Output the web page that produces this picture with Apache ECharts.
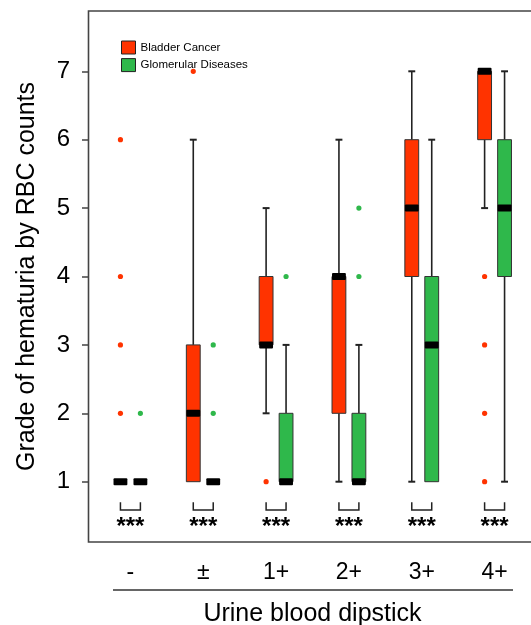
<!DOCTYPE html>
<html><head><meta charset="utf-8">
<script src="https://cdn.jsdelivr.net/npm/echarts@6/dist/echarts.min.js"></script>
<style>html,body{margin:0;padding:0;background:#fff}#c{width:531px;height:625px}</style>
</head><body><div id="c"></div>
<script>
const categories = ['-', '\u00B1', '1+', '2+', '3+', '4+'];
const seriesNames = ['Bladder Cancer', 'Glomerular Diseases'];
// Bladder cancer box stats: lower whisker, Q1, median, Q3, upper whisker
const bladderLow  = [1, 1, 2, 1, 1, 5];
const bladderQ1   = [1, 1, 3, 2, 4, 6];
const bladderMed  = [1, 2, 3, 4, 5, 7];
const bladderQ3   = [1, 3, 4, 4, 6, 7];
const bladderHigh = [1, 6, 5, 6, 7, 7];
// Glomerular diseases box stats
const glomLow  = [1, 1, 1, 1, 1, 1];
const glomQ1   = [1, 1, 1, 1, 1, 4];
const glomMed  = [1, 1, 1, 1, 3, 5];
const glomQ3   = [1, 1, 2, 2, 4, 6];
const glomHigh = [1, 1, 3, 3, 6, 7];
// Outliers: [category index, grade]
const bladderOutliers = [[0, 2], [0, 3], [0, 4], [0, 6], [1, 7], [2, 1], [5, 1], [5, 2], [5, 3], [5, 4]];
const glomOutliers = [[0, 2], [1, 2], [1, 3], [2, 4], [3, 4], [3, 5]];
const sigLabels = ['***', '***', '***', '***', '***', '***'];
const yTickValues = [1, 2, 3, 4, 5, 6, 7];

const RED = '#FF3300', GREEN = '#2FB84B';
const FONT = '"Liberation Sans", Arial, sans-serif';
const OFF = 0.137, BOXW = 0.19;

function boxData(lo, q1, md, q3, hi) {
  return categories.map((c, i) => [i, lo[i], q1[i], md[i], q3[i], hi[i]]);
}
function boxRender(color, side) {
  return function (params, api) {
    const cat = api.value(0);
    const lo = api.value(1), q1 = api.value(2), md = api.value(3), q3 = api.value(4), hi = api.value(5);
    const band = api.size([1, 0])[0];
    const c = api.coord([cat, md]);
    const x = c[0] + side * band * OFF;
    const bw = band * BOXW;
    const Y = v => api.coord([cat, v])[1];
    const ch = [];
    const wl = { stroke: '#222', lineWidth: 1.6 };
    if (hi > q3) {
      ch.push({ type: 'line', shape: { x1: x, y1: Y(q3), x2: x, y2: Y(hi) }, style: wl });
      ch.push({ type: 'line', shape: { x1: x - bw / 4, y1: Y(hi), x2: x + bw / 4, y2: Y(hi) }, style: { stroke: '#222', lineWidth: 2 } });
    }
    if (lo < q1) {
      ch.push({ type: 'line', shape: { x1: x, y1: Y(q1), x2: x, y2: Y(lo) }, style: wl });
      ch.push({ type: 'line', shape: { x1: x - bw / 4, y1: Y(lo), x2: x + bw / 4, y2: Y(lo) }, style: { stroke: '#222', lineWidth: 2 } });
    }
    if (q3 > q1) {
      ch.push({ type: 'rect', shape: { x: x - bw / 2, y: Y(q3), width: bw, height: Y(q1) - Y(q3) }, style: { fill: color, stroke: '#333', lineWidth: 1 } });
    }
    ch.push({ type: 'rect', shape: { x: x - bw / 2, y: Y(md) - 3.5, width: bw, height: 7, r: 1 }, style: { fill: '#000' } });
    return { type: 'group', children: ch };
  };
}
function outlierRender(color, side) {
  return function (params, api) {
    const band = api.size([1, 0])[0];
    const p = api.coord([api.value(0), api.value(1)]);
    return { type: 'circle', shape: { cx: p[0] + side * band * OFF, cy: p[1], r: 2.6 }, style: { fill: color } };
  };
}
function sigRender(params, api) {
  const i = api.value(0);
  const band = api.size([1, 0])[0];
  const cx = api.coord([i, 1])[0];
  const x0 = cx - band * OFF, x1 = cx + band * OFF;
  const yT = api.coord([i, 0.70])[1], yB = api.coord([i, 0.585])[1];
  const yS = api.coord([i, 0.33])[1];
  return { type: 'group', children: [
    { type: 'polyline', shape: { points: [[x0, yT], [x0, yB], [x1, yB], [x1, yT]] }, style: { stroke: '#222', lineWidth: 1.5, fill: null } },
    { type: 'text', x: cx, y: yS, style: { text: sigLabels[i], font: 'bold 24px ' + FONT, fill: '#000', align: 'center', verticalAlign: 'middle' } }
  ] };
}

const chart = echarts.init(document.getElementById('c'), null, { renderer: 'canvas' });
chart.setOption({
  animation: false,
  backgroundColor: '#fff',
  grid: { left: 94, right: 0, top: 71.3, bottom: 143.3, containLabel: false, outerBoundsMode: 'none' },
  legend: {
    orient: 'vertical', left: 116, top: 35.5, itemWidth: 14, itemHeight: 13, itemGap: 3.6,
    textStyle: { fontFamily: FONT, fontSize: 11.5, color: '#000' },
    data: [
      { name: seriesNames[0], icon: 'rect', itemStyle: { color: RED, borderColor: '#222', borderWidth: 1 } },
      { name: seriesNames[1], icon: 'rect', itemStyle: { color: GREEN, borderColor: '#222', borderWidth: 1 } }
    ]
  },
  xAxis: {
    type: 'category', data: categories,
    axisLine: { show: false }, axisTick: { show: false },
    axisLabel: { margin: 79, fontFamily: FONT, fontSize: 23, color: '#000' },
    name: 'Urine blood dipstick', nameLocation: 'middle', nameGap: 120,
    nameTextStyle: { fontFamily: FONT, fontSize: 25, color: '#000' }
  },
  yAxis: {
    type: 'value', min: 1, max: 7, interval: 1, offset: 6,
    splitLine: { show: false },
    axisLine: { show: false },
    axisTick: { show: true, length: 6, lineStyle: { color: '#444', width: 1.5 } },
    axisLabel: { margin: 18, fontFamily: FONT, fontSize: 24, color: '#000',
      formatter: v => (yTickValues.indexOf(v) >= 0 ? String(v) : '') },
    name: 'Grade of hematuria by RBC counts', nameLocation: 'middle', nameGap: 48, nameRotate: 90,
    nameTextStyle: { fontFamily: FONT, fontSize: 25, color: '#000' }
  },
  graphic: [
    { type: 'rect', shape: { x: 88.5, y: 11, width: 470, height: 531 }, style: { fill: null, stroke: '#444', lineWidth: 1.6 }, silent: true },
    { type: 'line', shape: { x1: 113, y1: 590, x2: 513, y2: 590 }, style: { stroke: '#333', lineWidth: 1.6 }, silent: true }
  ],
  series: [
    { type: 'custom', name: seriesNames[0], renderItem: boxRender(RED, -1), data: boxData(bladderLow, bladderQ1, bladderMed, bladderQ3, bladderHigh), encode: { x: 0, y: [1, 2, 3, 4, 5] }, itemStyle: { color: RED }, z: 3 },
    { type: 'custom', name: seriesNames[1], renderItem: boxRender(GREEN, 1), data: boxData(glomLow, glomQ1, glomMed, glomQ3, glomHigh), encode: { x: 0, y: [1, 2, 3, 4, 5] }, itemStyle: { color: GREEN }, z: 3 },
    { type: 'custom', name: seriesNames[0], renderItem: outlierRender(RED, -1), data: bladderOutliers, encode: { x: 0, y: 1 }, itemStyle: { color: RED }, z: 4 },
    { type: 'custom', name: seriesNames[1], renderItem: outlierRender(GREEN, 1), data: glomOutliers, encode: { x: 0, y: 1 }, itemStyle: { color: GREEN }, z: 4 },
    { type: 'custom', renderItem: sigRender, data: categories.map((c, i) => [i]), encode: { x: 0 }, z: 2 }
  ]
});
</script></body></html>
